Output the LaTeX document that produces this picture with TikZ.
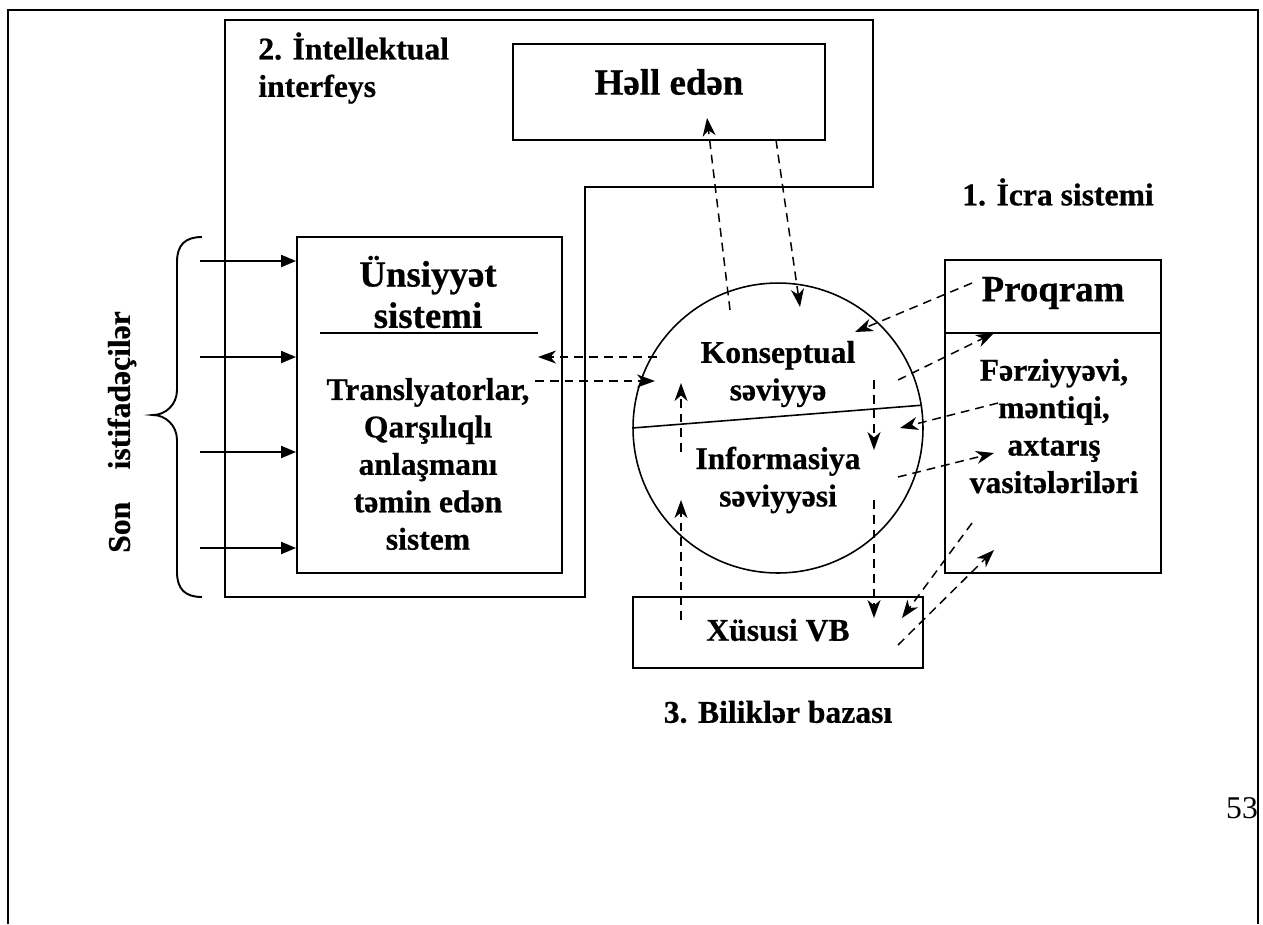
\documentclass[tikz,border=0pt]{standalone}
\usepackage{fontspec}
\setmainfont{Liberation Serif}[BoldFeatures={FakeBold=0.6}]
\usetikzlibrary{arrows.meta}

\begin{document}
\begin{tikzpicture}[x=0.02cm, y=-0.02cm,
    box/.style={draw, line width=1.1pt, inner sep=0pt},
    txt/.style={font=\bfseries\fontsize{18}{21.3}\selectfont, align=center, inner sep=0pt},
    bigtxt/.style={font=\bfseries\fontsize{21}{23.5}\selectfont, align=center, inner sep=0pt},
    flow/.style={dash pattern=on 5pt off 3.4pt, line width=0.85pt, -{Stealth[length=0.36cm, width=0.26cm, inset=0.11cm]}},
    feed/.style={line width=1.1pt, -{Triangle[length=0.3cm, width=0.24cm]}}]
    \useasboundingbox (0,0) rectangle (1263,924);

    % Frames
    \draw[line width=1.1pt] (8,924) -- (8,10) -- (1258,10) -- (1258,924);
    \draw[line width=1.1pt] (225,20) -- (873,20) -- (873,187) -- (585,187) -- (585,597) -- (225,597) -- cycle;

    % Draw nodes
    \node[box, minimum width=6.24cm, minimum height=1.92cm] (hell) at (669,92) {};
    \node[box, minimum width=5.3cm, minimum height=6.72cm] (uns) at (429.5,405) {};
    \node[circle, draw, line width=0.9pt, minimum size=5.8cm] (ell) at (778,428) {};
    \node[box, minimum width=4.32cm, minimum height=6.26cm] (prog) at (1053,416.5) {};
    \node[box, minimum width=5.8cm, minimum height=1.42cm] (vb) at (778,632.5) {};

    \draw[line width=1.1pt] (320,333) -- (538,333);
    \draw[line width=1.1pt] (prog.west |- 0,333) -- (prog.east |- 0,333);
    \draw[line width=0.9pt] (ell.180) -- (ell.9);

    % Texts
    \node[bigtxt] (helltxt) at (669,82) {Həll edən};
    \node[bigtxt] (unstitle) at (428,292) {Ünsiyyət\\sistemi};
    \node[txt] (unsbody) at (428,464) {Translyatorlar,\\Qarşılıqlı\\anlaşmanı\\təmin edən\\sistem};
    \node[txt] (konsept) at (778,374) {Konseptual\\səviyyə};
    \node[txt] (inform) at (778,480) {Informasiya\\səviyyəsi};
    \node[bigtxt] (progtxt) at (1053,293) {Proqram};
    \node[txt] (ferz) at (1054,426) {Fərziyyəvi,\\məntiqi,\\axtarış\\vasitələriləri};
    \node[txt] (vbtxt) at (778,630) {Xüsusi VB};

    % Labels
    \node[txt, anchor=north west, align=left] (intlabel) at (258,32) {2. İntellektual\\interfeys};
    \node[txt] (icra) at (1058,192) {1. İcra sistemi};
    \node[txt] (bilik) at (778,712) {3. Biliklər bazası};
    \node[txt, rotate=90] (users) at (122,432) {Son\hspace{0.65cm}istifadəçilər};
    \node[font=\fontsize{18}{21}\selectfont, inner sep=0pt] (page) at (1242,808) {53};

    % Brace
    \draw[line width=1.1pt] (202,237) .. controls (185,237) and (177,245) .. (177,262) -- (177,390)
        .. controls (177,405) and (165,415) .. (153,415) .. controls (165,415) and (177,425) .. (177,440)
        -- (177,572) .. controls (177,589) and (185,597) .. (202,597);

    % Draw connections
    \foreach \y [count=\i] in {261,357,452,548} {
        \coordinate (in\i) at (200,\y);
        \draw[feed] (in\i) -- (in\i -| uns.west);
    }

    \coordinate (e1) at (730,310);  \coordinate (h1) at (707,118);
    \coordinate (h2) at (776,140);  \coordinate (e2) at (800,307);
    \coordinate (p1) at (972,283);  \coordinate (e3) at (855,332);
    \coordinate (e4) at (898,380);  \coordinate (p2) at (994,333);
    \coordinate (p3) at (998,403);  \coordinate (e5) at (900,428);
    \coordinate (e6) at (898,477);  \coordinate (p4) at (994,453);
    \coordinate (k1) at (874,380);  \coordinate (k2) at (874,450);
    \coordinate (i1) at (874,500);  \coordinate (v1) at (874,618);
    \coordinate (v2) at (681,620);  \coordinate (i2) at (681,500);
    \coordinate (i3) at (681,452);  \coordinate (k3) at (681,383);
    \coordinate (p5) at (972,523);  \coordinate (v3) at (902,618);
    \coordinate (v4) at (898,645);  \coordinate (p6) at (994,550);
    \coordinate (e7) at (657,357);  \coordinate (u1) at (538,357);
    \coordinate (u2) at (535,381);  \coordinate (e8) at (655,381);

    \draw[flow] (e1) -- (h1);
    \draw[flow] (h2) -- (e2);
    \draw[flow] (p1) -- (e3);
    \draw[flow] (e4) -- (p2);
    \draw[flow] (p3) -- (e5);
    \draw[flow] (e6) -- (p4);
    \draw[flow] (k1) -- (k2);
    \draw[flow] (i1) -- (v1);
    \draw[flow] (v2) -- (i2);
    \draw[flow] (i3) -- (k3);
    \draw[flow] (p5) -- (v3);
    \draw[flow] (v4) -- (p6);
    \draw[flow] (e7) -- (u1);
    \draw[flow] (u2) -- (e8);
\end{tikzpicture}
\end{document}
